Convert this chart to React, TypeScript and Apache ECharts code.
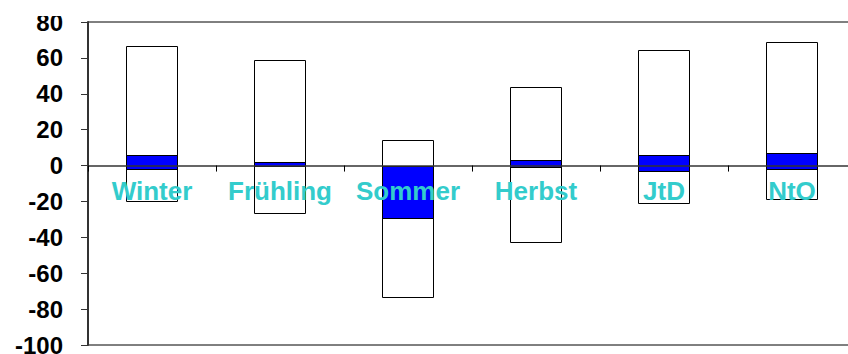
import React, { useEffect, useRef } from "react";
import * as echarts from "echarts";

const categories = ["Winter", "Frühling", "Sommer", "Herbst", "JtD", "NtO"];
const rangeLow = [-20, -26.7, -73.5, -42.8, -20.9, -18.9];
const rangeHigh = [66.7, 58.7, 14.1, 43.9, 64.4, 68.7];
const blueLow = [-1.8, 0, -29, -0.7, -3, -1.9];
const blueHigh = [5.9, 1.9, 0, 3, 6.1, 7.2];

const FONT = "'Liberation Sans', Arial, sans-serif";

function makeRender(fill: string) {
  return (params: any, api: any) => {
    const x = api.value(0);
    const lo = api.value(1);
    const hi = api.value(2);
    const top = api.coord([x, hi]);
    const bot = api.coord([x, lo]);
    const w = api.size([1, 0])[0] * 0.4;
    const left = Math.round(top[0] - w / 2) + 0.5;
    const y0 = Math.round(top[1]) + 0.5;
    const y1 = Math.round(bot[1]) + 0.5;
    return {
      type: "rect",
      shape: { x: left, y: y0, width: Math.round(w), height: y1 - y0 },
      style: { fill, stroke: "#000", lineWidth: 1 },
    };
  };
}

function renderLabel(params: any, api: any) {
  const x = api.value(0);
  const p = api.coord([x, 0]);
  return {
    type: "text",
    z2: 100,
    style: {
      x: p[0],
      y: p[1] + 25,
      text: categories[params.dataIndex],
      fill: "#33CCCC",
      font: "bold 26px " + FONT,
      align: "center",
      verticalAlign: "middle",
    },
  };
}

export default function App() {
  const ref = useRef<HTMLDivElement>(null);
  useEffect(() => {
    if (!ref.current) return;
    const chart = echarts.init(ref.current, undefined, { renderer: "svg" });
    const rangeData = categories.map((_, i) => [i, rangeLow[i], rangeHigh[i]]);
    const blueData = categories.map((_, i) => [i, blueLow[i], blueHigh[i]]);
    const labelData = categories.map((_, i) => [i, 0]);
    chart.setOption({
      animation: false,
      backgroundColor: "#fff",
      grid: {
        left: 88,
        top: 22,
        width: 768,
        height: 323,
        outerBoundsMode: "none",
        containLabel: false,
        show: true,
        borderColor: "#000",
        borderWidth: 1,
        backgroundColor: "transparent",
      },
      graphic: [
        {
          type: "rect",
          left: 0,
          top: 0,
          z: 100,
          shape: { width: 76, height: 16 },
          style: { fill: "#fff" },
          silent: true,
        },
      ],
      xAxis: {
        type: "category",
        data: categories,
        z: 10,
        axisLine: { onZero: true, lineStyle: { color: "#333", width: 1.5 } },
        axisTick: { show: true, length: 6, inside: false, lineStyle: { color: "#000" } },
        axisLabel: { show: false },
        splitLine: { show: false },
      },
      yAxis: {
        type: "value",
        min: -100,
        max: 80,
        interval: 20,
        axisLine: { show: true, lineStyle: { color: "#333", width: 2 } },
        axisTick: { show: true, length: 7, lineStyle: { color: "#333" } },
        axisLabel: {
          color: "#000",
          fontSize: 24,
          fontWeight: "bold",
          fontFamily: FONT,
          margin: 25,
        },
        splitLine: { show: false },
      },
      series: [
        {
          type: "custom",
          renderItem: makeRender("#ffffff"),
          data: rangeData,
          encode: { x: 0, y: [1, 2] },
          z: 2,
        },
        {
          type: "custom",
          renderItem: makeRender("#0000ff"),
          data: blueData,
          encode: { x: 0, y: [1, 2] },
          z: 3,
        },
        {
          type: "custom",
          renderItem: renderLabel,
          data: labelData,
          encode: { x: 0, y: 1 },
          z: 20,
        },
      ],
    });
    return () => chart.dispose();
  }, []);
  return (
    <div
      ref={ref}
      style={{ position: "fixed", left: 0, top: 0, width: 848, height: 354, background: "#fff" }}
    />
  );
}
